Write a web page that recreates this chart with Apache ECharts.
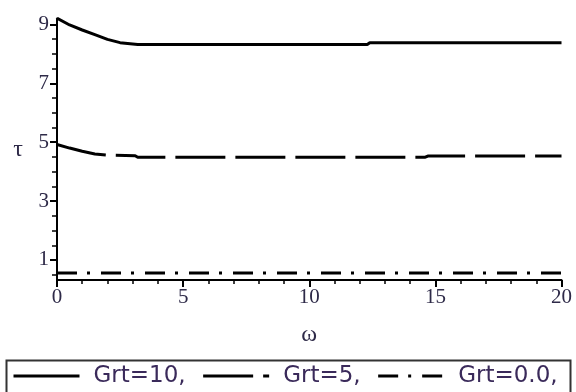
<!DOCTYPE html>
<html>
<head>
<meta charset="utf-8">
<script src="https://cdn.jsdelivr.net/npm/echarts@6/dist/echarts.min.js"></script>
<style>
html,body{margin:0;padding:0;background:#fff;}
#chart{width:576px;height:392px;}
</style>
</head>
<body>
<div id="chart"></div>
<script>
// ---- data ----
const seriesNames = ['Grt=10,', 'Grt=5,', 'Grt=0.0,'];
const omega1 = [0, 0.5, 1, 1.5, 2, 2.5, 3.2, 12.3, 12.4, 20];
const tau1   = [9.21, 8.98, 8.81, 8.65, 8.49, 8.38, 8.32, 8.32, 8.38, 8.38];
const omega2 = [0, 0.5, 1, 1.5, 2, 3.1, 3.2, 14.6, 14.7, 20];
const tau2   = [4.92, 4.80, 4.69, 4.60, 4.56, 4.54, 4.49, 4.49, 4.53, 4.53];
const omega3 = [0, 20];
const tau3   = [0.56, 0.56];
const yTickLabels = [1, 3, 5, 7, 9];
const yMinorTicks = [0.5, 1.5, 2, 2.5, 3.5, 4, 4.5, 5.5, 6, 6.5, 7.5, 8, 8.5];
const xTickLabels = [0, 5, 10, 15, 20];

const pairs = (xs, ys) => xs.map((x, i) => [x, ys[i]]);

const labelColor = '#2e2a48';
const chart = echarts.init(document.getElementById('chart'), null, {renderer: 'canvas'});
chart.setOption({
  animation: false,
  backgroundColor: '#fff',
  grid: {left: 57, right: 14.5, top: 18.5, bottom: 112, containLabel: false},
  xAxis: {
    type: 'value', min: 0, max: 20, interval: 5,
    name: 'ω', nameLocation: 'middle', nameGap: 43,
    nameTextStyle: {fontFamily: 'Liberation Serif', fontSize: 24, color: labelColor},
    axisLine: {show: true, onZero: false, lineStyle: {color: '#000', width: 2}},
    axisTick: {show: true, inside: false, length: 7, lineStyle: {color: '#000', width: 2}},
    minorTick: {show: true, splitNumber: 5, length: 4, lineStyle: {color: '#000', width: 1.5}},
    axisLabel: {
      fontFamily: 'Liberation Serif', fontSize: 21, color: labelColor, margin: 7,
      customValues: xTickLabels
    },
    splitLine: {show: false}, minorSplitLine: {show: false}
  },
  yAxis: [{
    type: 'value', min: 0.32, max: 9.2,
    name: 'τ', nameLocation: 'middle', nameGap: 34, nameRotate: 0,
    nameTextStyle: {fontFamily: 'Liberation Serif', fontSize: 24, color: labelColor},
    axisLine: {show: true, onZero: false, lineStyle: {color: '#000', width: 2}},
    axisTick: {show: true, length: 7, customValues: yTickLabels, lineStyle: {color: '#000', width: 2}},
    axisLabel: {fontFamily: 'Liberation Serif', fontSize: 21, color: labelColor, margin: 8, customValues: yTickLabels},
    splitLine: {show: false}
  }, {
    type: 'value', min: 0.32, max: 9.2, position: 'left',
    axisLine: {show: false},
    axisTick: {show: true, length: 5, customValues: yMinorTicks, lineStyle: {color: '#000', width: 1.5}},
    axisLabel: {show: false},
    splitLine: {show: false}
  }],
  legend: {
    show: true, orient: 'horizontal', left: 12, top: 364,
    itemWidth: 66, itemHeight: 14, itemGap: 16,
    data: seriesNames,
    itemStyle: {opacity: 0},
    lineStyle: {width: 3},
    textStyle: {fontFamily: 'DejaVu Sans', fontSize: 23, color: '#3a2a5a', padding: [0, 0, 0, 9], lineHeight: 24},
    padding: 0
  },
  graphic: [{
    type: 'rect', left: 4, top: 358,
    shape: {width: 564, height: 44},
    style: {fill: 'none', stroke: '#333', lineWidth: 2},
    silent: true, z: 0
  }],
  series: [{
    name: seriesNames[0], type: 'line', data: pairs(omega1, tau1), showSymbol: false, symbol: 'none',
    lineStyle: {color: '#000', width: 3, type: 'solid'}, itemStyle: {color: '#000'}
  }, {
    name: seriesNames[1], type: 'line', data: pairs(omega2, tau2), showSymbol: false, symbol: 'none',
    lineStyle: {color: '#000', width: 3, type: [50, 10]}, itemStyle: {color: '#000'}
  }, {
    name: seriesNames[2], type: 'line', data: pairs(omega3, tau3), showSymbol: false, symbol: 'none',
    lineStyle: {color: '#000', width: 3, type: [20, 10, 3, 11]}, itemStyle: {color: '#000'}
  }]
});
</script>
</body>
</html>
